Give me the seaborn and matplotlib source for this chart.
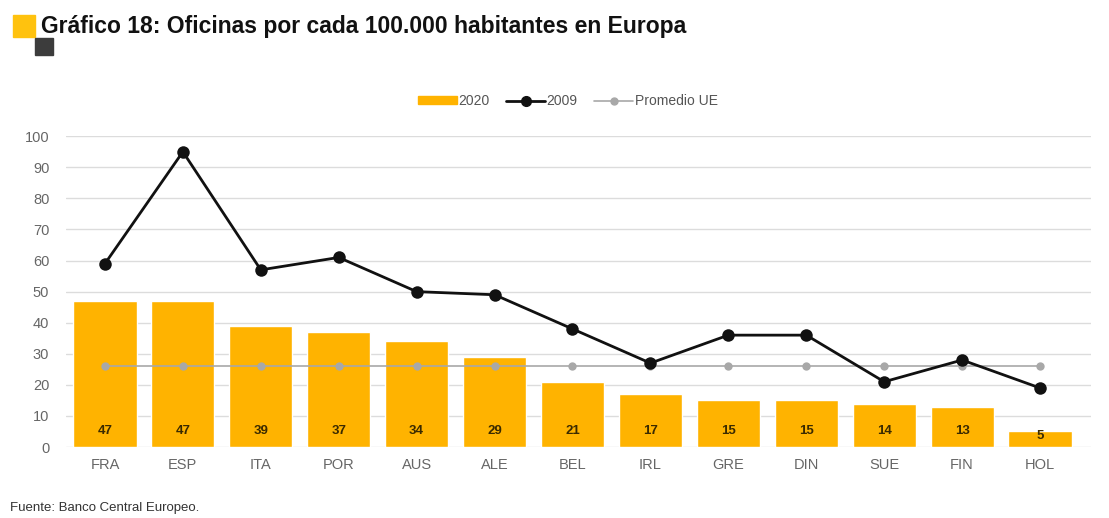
import matplotlib
matplotlib.use("Agg")
import matplotlib.pyplot as plt
import matplotlib.patches as mpatches
from matplotlib.lines import Line2D
import seaborn as sns
import pandas as pd

categories = ["FRA", "ESP", "ITA", "POR", "AUS", "ALE", "BEL", "IRL", "GRE", "DIN", "SUE", "FIN", "HOL"]
values_2020 = [47, 47, 39, 37, 34, 29, 21, 17, 15, 15, 14, 13, 5]
values_2009 = [59, 95, 57, 61, 50, 49, 38, 27, 36, 36, 21, 28, 19]
promedio_ue = [26] * len(categories)
yticks = [0, 10, 20, 30, 40, 50, 60, 70, 80, 90, 100]

sns.set_style("white")
plt.rcParams["font.family"] = ["Liberation Sans", "DejaVu Sans"]

df = pd.DataFrame({"pais": categories, "v2020": values_2020, "v2009": values_2009, "ue": promedio_ue})

fig = plt.figure(figsize=(11.09, 5.18), dpi=100)
ax = fig.add_axes([0.0595, 0.137, 0.924, 0.6])

BAR = "#FFB300"
sns.barplot(data=df, x="pais", y="v2020", color=BAR, width=0.81, saturation=1, ax=ax, zorder=2)
sns.lineplot(data=df, x="pais", y="ue", sort=False, color="#a8a8a8", lw=1.2, marker="o",
             markersize=6, markeredgewidth=0, ax=ax, zorder=3)
sns.lineplot(data=df, x="pais", y="v2009", sort=False, color="#111111", lw=2, marker="o",
             markersize=9, markeredgewidth=0, ax=ax, zorder=4, clip_on=False)

for i, v in enumerate(values_2020):
    ax.text(i, min(5, v - 1.5), str(v), ha="center", va="center", fontsize=9.5,
            fontweight="bold", color="#3a2a00", zorder=5)

ax.set_ylim(0, 100)
ax.set_xlim(-0.5, len(categories) - 0.35)
ax.set_yticks(yticks)
ax.yaxis.grid(True, color="#dcdcdc", lw=1)
ax.set_axisbelow(True)
for s in ax.spines.values():
    s.set_visible(False)
ax.tick_params(axis="both", length=0, colors="#666666", labelsize=10.5)
ax.tick_params(axis="x", pad=8)
ax.tick_params(axis="y", pad=12)
ax.set_xlabel("")
ax.set_ylabel("")

handles = [
    mpatches.Patch(color=BAR, label="2020"),
    Line2D([], [], color="#111111", lw=2, marker="o", markersize=7, label="2009"),
    Line2D([], [], color="#a8a8a8", lw=1.2, marker="o", markersize=5, label="Promedio UE"),
]
leg = fig.legend(handles=handles, loc="center", bbox_to_anchor=(0.512, 0.805), ncol=3, frameon=False,
                 fontsize=10, handlelength=2.8, handletextpad=0.1, columnspacing=1.2, handleheight=0.5)
for t in leg.get_texts():
    t.set_color("#555555")

fig.patches.append(mpatches.Rectangle((13 / 1109, 1 - 37 / 518), 22 / 1109, 22 / 518,
                                      transform=fig.transFigure, color="#FFC20E", figure=fig))
fig.patches.append(mpatches.Rectangle((35 / 1109, 1 - 55 / 518), 18 / 1109, 17 / 518,
                                      transform=fig.transFigure, color="#3c3c3c", figure=fig))
fig.text(41 / 1109, 1 - 27 / 518, "Gráfico 18: Oficinas por cada 100.000 habitantes en Europa",
         fontsize=16.5, fontweight="bold", color="#111111", va="center", ha="left")
fig.text(10 / 1109, 1 - 508 / 518, "Fuente: Banco Central Europeo.", fontsize=9.5,
         color="#333333", va="center", ha="left")

fig.savefig("out.png", dpi=100)
